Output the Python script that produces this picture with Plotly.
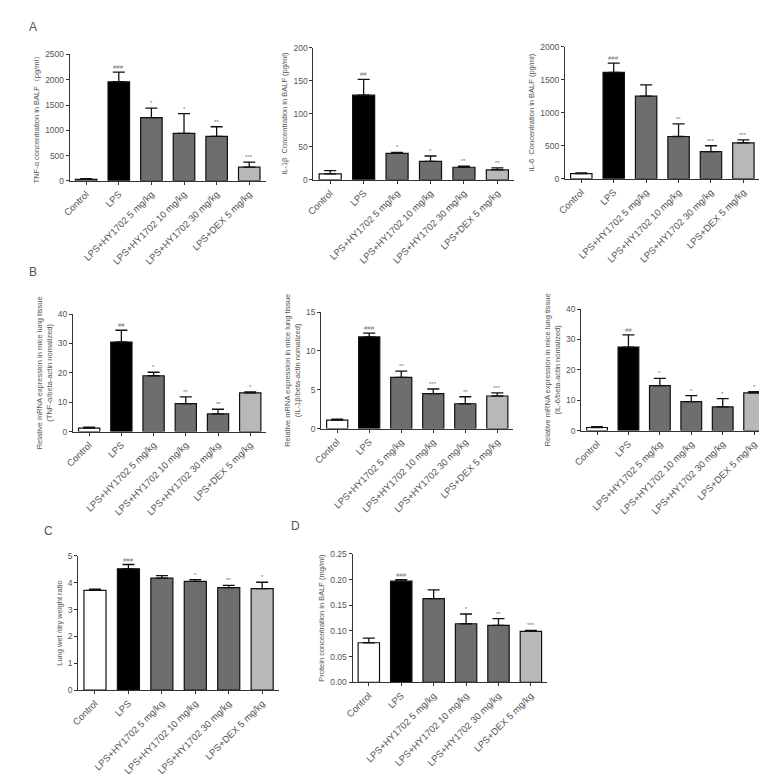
import plotly.graph_objects as go

W, H = 767, 778

categories = ["Control", "LPS", "LPS+HY1702 5 mg/kg", "LPS+HY1702 10 mg/kg",
              "LPS+HY1702 30 mg/kg", "LPS+DEX 5 mg/kg"]
bar_colors = ["#ffffff", "#000000", "#6e6e6e", "#6e6e6e", "#6e6e6e", "#b8b8b8"]

# Panel A: BALF cytokines
tnf_balf = [30, 1960, 1250, 940, 880, 270]
tnf_balf_sem = [12, 190, 190, 390, 190, 100]
tnf_balf_sig = ["", "###", "*", "*", "**", "***"]

il1b_balf = [9, 128, 40, 28, 19, 15]
il1b_balf_sem = [5, 24, 1.5, 8, 1.5, 3]
il1b_balf_sig = ["", "##", "*", "*", "**", "**"]

il6_balf = [80, 1610, 1250, 640, 410, 545]
il6_balf_sem = [10, 140, 170, 190, 90, 45]
il6_balf_sig = ["", "###", "", "**", "***", "***"]

# Panel B: mRNA
tnf_mrna = [1.2, 30.5, 19.0, 9.5, 6.0, 13.2]
tnf_mrna_sem = [0.3, 4.0, 1.2, 2.3, 1.6, 0.3]
tnf_mrna_sig = ["", "##", "*", "**", "**", "*"]

il1b_mrna = [1.1, 11.8, 6.6, 4.5, 3.2, 4.2]
il1b_mrna_sem = [0.1, 0.5, 0.8, 0.6, 0.9, 0.4]
il1b_mrna_sig = ["", "###", "**", "***", "**", "***"]

il6_mrna = [1.0, 27.5, 14.8, 9.5, 7.8, 12.4]
il6_mrna_sem = [0.3, 4.0, 2.4, 2.0, 2.7, 0.4]
il6_mrna_sig = ["", "##", "*", "*", "*", "*"]

# Panel C: wet/dry ratio
wet_dry = [3.72, 4.52, 4.17, 4.05, 3.82, 3.78]
wet_dry_sem = [0.04, 0.16, 0.10, 0.07, 0.08, 0.24]
wet_dry_sig = ["", "###", "", "*", "**", "*"]

# Panel D: protein
protein = [0.077, 0.197, 0.163, 0.114, 0.111, 0.099]
protein_sem = [0.009, 0.003, 0.017, 0.019, 0.013, 0.002]
protein_sig = ["", "###", "", "*", "**", "***"]

panels = [
    dict(v=tnf_balf, e=tnf_balf_sem, s=tnf_balf_sig, ymax=2500, dt=500,
         title="TNF-α concentration in BALF（pg/ml）", px=(53.5, 251.5), py=(42, 170)),
    dict(v=il1b_balf, e=il1b_balf_sem, s=il1b_balf_sig, ymax=200, dt=50,
         title="IL-1β  Concentration in BALF (pg/ml)", px=(300, 503), py=(35, 169)),
    dict(v=il6_balf, e=il6_balf_sem, s=il6_balf_sig, ymax=2000, dt=500,
         title="IL-6  Concentration in BALF (pg/ml)", px=(554.6, 751.4), py=(34, 168)),
    dict(v=tnf_mrna, e=tnf_mrna_sem, s=tnf_mrna_sig, ymax=40, dt=10,
         title="Relative mRNA expression in mice lung tissue<br>(TNF-α/beta-actin nomalized)",
         px=(56.7, 252.3), py=(305, 424)),
    dict(v=il1b_mrna, e=il1b_mrna_sem, s=il1b_mrna_sig, ymax=15, dt=5,
         title="Relative mRNA expression in mice lung tissue<br>(IL-1β/beta-actin nomalized)",
         px=(307.8, 502.2), py=(303, 421)),
    dict(v=il6_mrna, e=il6_mrna_sem, s=il6_mrna_sig, ymax=40, dt=10,
         title="Relative mRNA expression in mice lung tissue<br>(IL-6/beta-actin nomalized)",
         px=(571, 761.8), py=(300, 423)),
    dict(v=wet_dry, e=wet_dry_sem, s=wet_dry_sig, ymax=5, dt=1,
         title="Lung wet /dry weight ratio", px=(62, 265), py=(550, 686)),
    dict(v=protein, e=protein_sem, s=protein_sig, ymax=0.25, dt=0.05,
         title="Protein concentration in BALF (mg/ml)", px=(339.6, 536.4), py=(548, 678),
         fmt=".2f"),
]

fig = go.Figure()
layout = dict(width=W, height=H, margin=dict(l=0, r=0, t=0, b=0),
              paper_bgcolor="white", plot_bgcolor="white", showlegend=False,
              font=dict(family="Liberation Sans, Arial", color="#444"),
              bargap=0.34, annotations=[])

for i, p in enumerate(panels):
    n = "" if i == 0 else str(i + 1)
    xa, ya = "x" + n, "y" + n
    fig.add_trace(go.Bar(
        x=categories, y=p["v"], xaxis=xa, yaxis=ya,
        marker=dict(color=bar_colors, line=dict(color="#111", width=1.2)),
        error_y=dict(type="data", symmetric=False, array=p["e"],
                     arrayminus=[0] * len(p["e"]), color="#111", thickness=1.3, width=6),
    ))
    layout["xaxis" + n] = dict(
        domain=[p["px"][0] / W, p["px"][1] / W], anchor=ya,
        showline=True, linecolor="#333", linewidth=1.2,
        ticks="outside", ticklen=3, tickcolor="#333", tickangle=-45,
        tickfont=dict(size=9.5, color="#555"), showgrid=False, zeroline=False,
        range=[-0.5, 5.5],
    )
    layout["yaxis" + n] = dict(
        domain=[1 - p["py"][1] / H, 1 - p["py"][0] / H], anchor=xa,
        range=[0, p["ymax"]], dtick=p["dt"], tickformat=p.get("fmt", ""),
        showline=True, linecolor="#333", linewidth=1.2,
        ticks="outside", ticklen=3, tickcolor="#333",
        tickfont=dict(size=8.5, color="#555"), showgrid=False, zeroline=False,
        title=dict(text=p["title"], font=dict(size=7.5, color="#555"), standoff=4),
    )
    for c, val, err, sig in zip(categories, p["v"], p["e"], p["s"]):
        if sig:
            layout["annotations"].append(dict(
                x=c, y=val + err, xref=xa, yref=ya, text=sig, showarrow=False,
                yanchor="bottom", yshift=0, font=dict(size=6, color="#777")))

for txt, x, y in [("A", 16, 14), ("B", 16, 262), ("C", 32, 525), ("D", 282, 520)]:
    layout["annotations"].append(dict(
        x=x / W, y=1 - y / H, xref="paper", yref="paper", text=txt, showarrow=False,
        xanchor="center", yanchor="middle", font=dict(size=12, color="#555")))

fig.update_layout(**layout)
fig.write_html("out.html")
